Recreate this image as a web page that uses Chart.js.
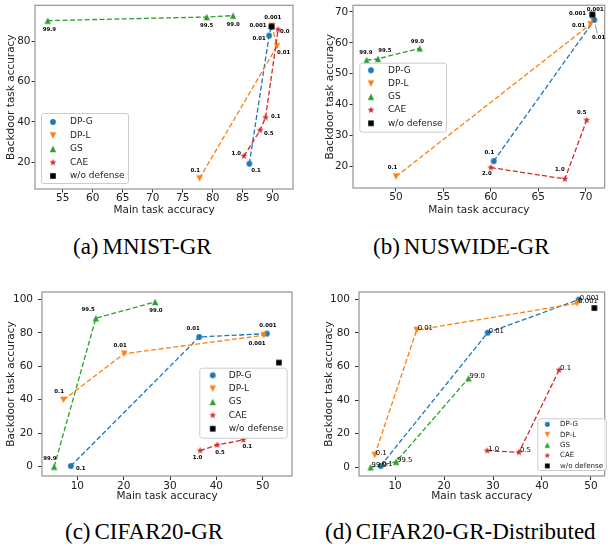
<!DOCTYPE html>
<html><head><meta charset="utf-8">
<script src="https://cdn.jsdelivr.net/npm/chart.js@4.4.0/dist/chart.umd.min.js"></script>
<style>
html,body{margin:0;padding:0;background:#fff;width:608px;height:546px;overflow:hidden;position:relative}
canvas{position:absolute}
.cap{position:absolute;font-family:"Liberation Serif","Times New Roman",serif;font-size:23px;color:#000;white-space:nowrap;line-height:1;transform:translateY(-50%)}
.cap span{margin-right:4px}
</style></head><body>
<canvas id="ca" width="300" height="220" style="left:0;top:0"></canvas>
<canvas id="cb" width="306" height="220" style="left:304px;top:0"></canvas>
<canvas id="cc" width="300" height="240" style="left:0;top:265px"></canvas>
<canvas id="cd" width="306" height="240" style="left:304px;top:265px"></canvas>
<div class="cap" style="left:73px;top:246px"><span>(a)</span>MNIST-GR</div>
<div class="cap" style="left:373px;top:246px"><span>(b)</span>NUSWIDE-GR</div>
<div class="cap" style="left:65px;top:531px"><span>(c)</span>CIFAR20-GR</div>
<div class="cap" style="left:325px;top:531px"><span>(d)</span>CIFAR20-GR-Distributed</div>
<script>
// ---------------- data ----------------
const seriesNames=['DP-G','DP-L','GS','CAE','w/o defense'];
const dpLevels=['0.1','0.01','0.001'];
const gsLevels=['99.9','99.5','99.0'];
const xTitle='Main task accuracy', yTitle='Backdoor task accuracy';
// (a) MNIST-GR
const aXTicks=[55,60,65,70,75,80,85,90], aYTicks=[20,40,60,80];
const aDPGx=[86.1,89.4,89.8], aDPGy=[19.3,82.8,87.1];
const aDPLx=[77.8,90.7,89.9], aDPLy=[12.0,77.5,87.6];
const aGSx=[52.5,79.0,83.4], aGSy=[90.2,92.0,92.7];
const aCAEx=[85.2,87.9,88.8,90.9], aCAEy=[23.1,35.9,42.2,85.8], aCAElv=['1.0','0.5','0.1','0.0'];
const aNoneX=[89.8], aNoneY=[87.3];
// (b) NUSWIDE-GR
const bXTicks=[50,55,60,65,70], bYTicks=[20,30,40,50,60,70];
const bDPGx=[60.3,70.9,70.7], bDPGy=[21.6,67.4,68.8];
const bDPLx=[50.0,70.5,70.7], bDPLy=[16.6,66.0,68.9];
const bGSx=[46.9,48.1,52.5], bGSy=[54.4,54.8,58.2];
const bCAEx=[60.0,67.8,70.1], bCAEy=[19.5,15.8,34.9], bCAElv=['2.0','1.0','0.5'];
const bNoneX=[70.7], bNoneY=[69.2];
// (c) CIFAR20-GR
const cXTicks=[10,20,30,40,50], cYTicks=[0,20,40,60,80,100];
const cDPGx=[8.6,36.3,50.9], cDPGy=[0.4,77.5,79.5];
const cDPLx=[7.0,20.1,50.2], cDPLy=[39.9,67.5,78.5];
const cGSx=[5.0,14.0,26.8], cGSy=[0.0,88.7,98.4];
const cCAEx=[36.5,40.2,45.8], cCAEy=[9.6,13.0,16.0], cCAElv=['1.0','0.5','0.1'];
const cNoneX=[53.5], cNoneY=[62.2];
// (d) CIFAR20-GR-Distributed
const dXTicks=[10,20,30,40,50], dYTicks=[0,20,40,60,80,100];
const dDPGx=[7.05,28.9,47.5], dDPGy=[0.8,80.1,99.8];
const dDPLx=[5.85,14.4,47.2], dDPLy=[7.3,81.7,97.6];
const dGSx=[5.0,10.2,25.0], dGSy=[0.0,3.3,53.0];
const dCAEx=[28.8,35.3,43.5], dCAEy=[9.9,8.9,57.9], dCAElv=['1.0','0.5','0.1'];
const dNoneX=[50.7], dNoneY=[94.8];

// ---------------- styles ----------------
const F='"DejaVu Sans", sans-serif';
const colors=['#1f77b4','#ff7f0e','#2ca02c','#d62728','#000000'];
const shapes=['o','v','^','*','s'];
const msize={o:5.8,v:6.4,'^':6.4,'*':7.4,s:5.6};
const FRAME='#9c9c9c', TXT='#222';

function markerCanvas(shape,color,s){
  const S=Math.ceil(s)+2+((Math.ceil(s))%2);
  const c=document.createElement('canvas'); c.width=S; c.height=S;
  const g=c.getContext('2d'); const cx=S/2, cy=S/2, r=s/2;
  g.fillStyle=color; g.beginPath();
  if(shape==='o') g.arc(cx,cy,r,0,Math.PI*2);
  else if(shape==='^'){g.moveTo(cx,cy-r);g.lineTo(cx+r,cy+r);g.lineTo(cx-r,cy+r);}
  else if(shape==='v'){g.moveTo(cx,cy+r);g.lineTo(cx+r,cy-r);g.lineTo(cx-r,cy-r);}
  else if(shape==='s'){g.rect(cx-r,cy-r,2*r,2*r);}
  else if(shape==='*'){for(let i=0;i<10;i++){const rr=i%2?r*0.382:r;const an=-Math.PI/2+i*Math.PI/5;g.lineTo(cx+rr*Math.cos(an),cy+rr*Math.sin(an));}}
  g.closePath(); g.fill(); return c;
}
const markerImg=shapes.map((s,i)=>markerCanvas(s,colors[i],msize[s]));

function roundRect(ctx,x,y,w,h,r){ctx.moveTo(x+r,y);ctx.lineTo(x+w-r,y);ctx.quadraticCurveTo(x+w,y,x+w,y+r);ctx.lineTo(x+w,y+h-r);ctx.quadraticCurveTo(x+w,y+h,x+w-r,y+h);ctx.lineTo(x+r,y+h);ctx.quadraticCurveTo(x,y+h,x,y+h-r);ctx.lineTo(x,y+r);ctx.quadraticCurveTo(x,y,x+r,y);ctx.closePath();}

function buildPanel(p){
  const datasets=p.series.map((s,i)=>({
    label:seriesNames[i],
    data:s[0].map((x,j)=>({x:x,y:s[1][j]})),
    showLine:s[0].length>1, borderColor:colors[i], backgroundColor:colors[i],
    borderWidth:1.3, borderDash:[5,2.4], pointStyle:markerImg[i], pointRadius:3.5,
    order:5-i, clip:false, tension:0, fill:false
  }));
  const plug={id:'extras'+p.id, afterDraw(chart){
    const ctx=chart.ctx, a=chart.chartArea;
    ctx.save();
    ctx.strokeStyle=FRAME; ctx.lineWidth=1.3;
    ctx.strokeRect(a.left,a.top,a.right-a.left,a.bottom-a.top);
    // point annotations
    ctx.fillStyle='#000'; ctx.font=p.labFont; ctx.textAlign=p.labAlign; ctx.textBaseline=p.labBase;
    p.ann.forEach((offs,si)=>{const meta=chart.getDatasetMeta(si);
      offs.forEach((o,j)=>{const el=meta.data[j]; ctx.fillText(p.series[si][2][j], el.x+o[0], el.y+o[1]);});});
    if(p.leader){const el=chart.getDatasetMeta(p.leader.s).data[p.leader.i];
      ctx.strokeStyle='#777'; ctx.lineWidth=0.8; ctx.beginPath();
      ctx.moveTo(el.x+p.leader.from[0],el.y+p.leader.from[1]); ctx.lineTo(el.x+p.leader.to[0],el.y+p.leader.to[1]); ctx.stroke();}
    // legend
    const L=p.legend;
    ctx.beginPath(); roundRect(ctx,L.x+0.5,L.y+0.5,L.w,L.h,2.5);
    ctx.fillStyle='rgba(255,255,255,0.8)'; ctx.fill(); ctx.strokeStyle='#cccccc'; ctx.lineWidth=1; ctx.stroke();
    ctx.font=L.fs+'px '+F; ctx.fillStyle=TXT; ctx.textAlign='left'; ctx.textBaseline='middle';
    seriesNames.forEach((n,i)=>{const yy=L.y0+i*L.dy; const img=markerImg[i]; const w=img.width*L.ms, h=img.height*L.ms;
      ctx.drawImage(img,L.mx-w/2,yy-h/2,w,h); ctx.fillText(n,L.tx,yy);});
    ctx.restore();
  }};
  const tickFont={family:F,size:10.5};
  new Chart(document.getElementById(p.id),{
    type:'scatter', data:{datasets},
    options:{responsive:false, animation:false, events:[],
      layout:{padding:p.pad},
      plugins:{legend:{display:false},tooltip:{enabled:false}},
      scales:{
        x:{type:'linear',min:p.x[0],max:p.x[1],
          afterBuildTicks:s=>{s.ticks=p.xt.map(v=>({value:v}));},
          afterFit:s=>{s.height=p.xh;s.paddingLeft=0;s.paddingRight=0;},
          grid:{drawOnChartArea:false,drawTicks:true,tickLength:p.tl,color:'#333',lineWidth:1},
          border:{display:false},
          ticks:{font:tickFont,color:TXT,padding:p.xtp,maxRotation:0,autoSkip:false,callback:v=>String(v)},
          title:{display:true,text:xTitle,font:tickFont,color:TXT,padding:{top:0,bottom:p.xtitle}}},
        y:{type:'linear',min:p.y[0],max:p.y[1],
          afterBuildTicks:s=>{s.ticks=p.yt.map(v=>({value:v}));},
          afterFit:s=>{s.width=p.yw;s.paddingTop=0;s.paddingBottom=0;},
          grid:{drawOnChartArea:false,drawTicks:true,tickLength:p.tl,color:'#333',lineWidth:1},
          border:{display:false},
          ticks:{font:tickFont,color:TXT,padding:p.ytp,autoSkip:false,callback:v=>String(v)},
          title:{display:true,text:yTitle,font:tickFont,color:TXT,padding:{top:p.ytitle,bottom:0}}}
      }},
    plugins:[plug]
  });
}

const boldLab='bold 5.4px '+F;
buildPanel({id:'ca',pad:{left:0,top:5,right:7,bottom:0},yw:35,xh:31,tl:3.5,xtp:-1,ytp:1,xtitle:3.7,ytitle:5.4,
  x:[50.38,93.38],y:[6.79,97.8],xt:aXTicks,yt:aYTicks,
  series:[[aDPGx,aDPGy,dpLevels],[aDPLx,aDPLy,dpLevels],[aGSx,aGSy,gsLevels],[aCAEx,aCAEy,aCAElv],[aNoneX,aNoneY,[]]],
  labFont:boldLab,labAlign:'center',labBase:'middle',
  ann:[[[6.7,7.3],[-10,3.3],[-13.5,-0.9]],[[-4.3,-8],[6.7,6.7],[0.6,-8.3]],[[1.6,9],[0,8.7],[0,8.7]],[[-7.7,-2.7],[8.7,3.3],[10.3,-0.6],[6.7,1.7]]],
  legend:{x:41,y:113,w:87,h:70,y0:122,dy:13.5,mx:53,tx:70,fs:9,ms:1}});
buildPanel({id:'cb',pad:{left:0,top:5,right:1,bottom:0},yw:49,xh:32,tl:3.5,xtp:-1,ytp:1.2,xtitle:3.7,ytitle:19.7,
  x:[45.47,72.0],y:[12.87,72.17],xt:bXTicks,yt:bYTicks,
  series:[[bDPGx,bDPGy,dpLevels],[bDPLx,bDPLy,dpLevels],[bGSx,bGSy,gsLevels],[bCAEx,bCAEy,bCAElv],[bNoneX,bNoneY,[]]],
  labFont:boldLab,labAlign:'center',labBase:'middle',
  ann:[[[-4.3,-8.3],[4.3,17.6],[-14.8,-2.1]],[[-3.4,-9],[-11.8,1],[2.8,-6.1]],[[-0.7,-7.7],[7,-8.4],[-2.4,-7]],[[-4,5.6],[-5,-9],[-5,-7.7]]],
  leader:{s:0,i:1,from:[1,4.6],to:[3,13.6]},
  legend:{x:55.3,y:62.7,w:86.7,h:69,y0:70.3,dy:13.25,mx:67,tx:84,fs:9,ms:1}});
buildPanel({id:'cc',pad:{left:0,top:27,right:8,bottom:0},yw:42,xh:29,tl:4,xtp:0,ytp:5,xtitle:2.7,ytitle:5.4,
  x:[2.38,56.32],y:[-5.56,104.36],xt:cXTicks,yt:cYTicks,
  series:[[cDPGx,cDPGy,dpLevels],[cDPLx,cDPLy,dpLevels],[cGSx,cGSy,gsLevels],[cCAEx,cCAEy,cCAElv],[cNoneX,cNoneY,[]]],
  labFont:boldLab,labAlign:'center',labBase:'middle',
  ann:[[[10,2.7],[-6,-8],[1,-8.4]],[[-4.3,-8.3],[-4,-7.7],[-6.6,8.7]],[[-4.3,-8.4],[-7.7,-9],[0.7,9]],[[-2.7,7],[2.7,7.3],[4,6.7]]],
  legend:{x:199.3,y:102.7,w:87.4,h:70,y0:110.3,dy:13.35,mx:212.7,tx:228.7,fs:9,ms:1}});
buildPanel({id:'cd',pad:{left:0,top:27,right:1,bottom:0},yw:55,xh:29,tl:4,xtp:0,ytp:5,xtitle:2,ytitle:19,
  x:[2.63,52.81],y:[-5.18,104.35],xt:dXTicks,yt:dYTicks,
  series:[[dDPGx,dDPGy,dpLevels],[dDPLx,dDPLy,dpLevels],[dGSx,dGSy,gsLevels],[dCAEx,dCAEy,dCAElv],[dNoneX,dNoneY,[]]],
  labFont:'6.9px '+F,labAlign:'left',labBase:'alphabetic',
  ann:[[[1,0],[1,0],[1,0]],[[1,0],[1,0],[1,0]],[[1,0],[1,0],[1,0]],[[1,0],[1,0],[1,0]]],
  legend:{x:233.3,y:153.3,w:68.7,h:51.7,y0:159.3,dy:10.4,mx:243.3,tx:256,fs:7.1,ms:0.85}});
</script>
</body></html>
